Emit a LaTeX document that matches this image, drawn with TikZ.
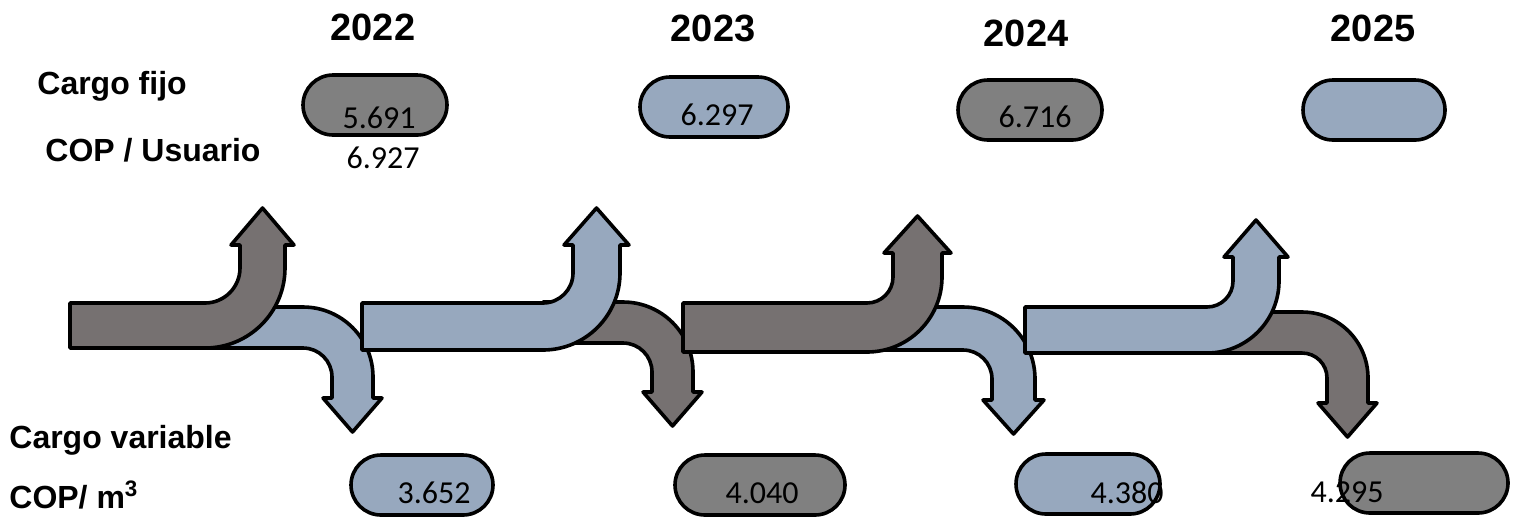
\documentclass[tikz,border=0pt]{standalone}
\usepackage{fontspec}
\setmainfont{Liberation Sans}
\newfontfamily\numfont{Carlito}
\usetikzlibrary{shapes.misc}

\definecolor{arrgray}{RGB}{118,113,113}
\definecolor{pillgray}{RGB}{128,128,128}
\definecolor{slateblue}{RGB}{151,168,190}

\tikzset{
  arrowline/.style={draw=black, line width=1.8pt, line join=round},
  pill/.style={draw, rounded rectangle, line width=1.8pt, minimum height=30pt, inner sep=0pt},
  year/.style={font=\bfseries\fontsize{19}{22}\selectfont},
  lbl/.style={anchor=west, inner sep=0pt, font=\bfseries\fontsize{16}{19}\selectfont},
  num/.style={font=\numfont\fontsize{16}{19}\selectfont}
}

% #1 fill, #2 start x, #3 bend x, #4 bar top, #5 bar bottom, #6 inner radius, #7 head base
\newcommand{\bendup}[7]{%
  \pgfmathsetmacro\outr{#5-#4+#6}
  \draw[arrowline, fill=#1] (#2,-#5) -- (#2,-#4) -- (#3,-#4)
    arc[start angle=-90, end angle=0, radius=#6] -- (#3+#6,-#7) -- (#3+#6-9,-#7)
    -- (#3+#6+0.5*\outr-0.5*#6,-#7+37) -- (#3+\outr+9,-#7) -- (#3+\outr,-#7)
    -- (#3+\outr,-#4+#6) arc[start angle=0, end angle=-90, radius=\outr] -- cycle;}
\newcommand{\benddown}[7]{%
  \pgfmathsetmacro\outr{#5-#4+#6}
  \draw[arrowline, fill=#1] (#2,-#5) -- (#2,-#4) -- (#3,-#4)
    arc[start angle=90, end angle=0, radius=\outr] -- (#3+\outr,-#7) -- (#3+\outr+9,-#7)
    -- (#3+#6+0.5*\outr-0.5*#6,-#7-34) -- (#3+#6-9,-#7) -- (#3+#6,-#7)
    -- (#3+#6,-#5-#6) arc[start angle=0, end angle=90, radius=#6] -- cycle;}

\begin{document}
\begin{tikzpicture}[x=0.5pt, y=0.5pt]
\useasboundingbox (0,0) rectangle (1518,-516);

% years
\node (y22) at (373,-27) [year] {2022};
\node (y23) at (713,-28) [year] {2023};
\node (y24) at (1026,-33) [year] {2024};
\node (y25) at (1373,-28) [year] {2025};

% left labels
\node (fijo) at (37,-86) [lbl] {Cargo fijo};
\node (usuario) at (45,-150) [lbl] {COP / Usuario};
\node (variable) at (9,-440) [lbl] {Cargo variable};
\node (metro) at (9,-495) [lbl] {COP/ m\textsuperscript{3}};

% arrows
\benddown{slateblue}{205}{303}{307}{348}{29}{398}
\bendup{arrgray}{70}{205}{303}{348}{35}{245}
\benddown{arrgray}{543}{623}{302}{343}{29}{392}
\bendup{slateblue}{362}{543}{303}{350}{30}{245}
\benddown{slateblue}{867}{963}{307}{350}{29}{400}
\bendup{arrgray}{683}{867}{303}{352}{26}{253}
\benddown{arrgray}{1207}{1302}{312}{353}{25}{403}
\bendup{slateblue}{1025}{1207}{307}{353}{26}{257}

% cargo fijo
\node (fix22) at (375,-105) [pill, fill=pillgray, minimum width=72pt] {};
\node (fix23) at (714,-107) [pill, fill=slateblue, minimum width=74pt] {};
\node (fix24) at (1030,-110) [pill, fill=pillgray, minimum width=72pt] {};
\node (fix25) at (1374,-110) [pill, fill=slateblue, minimum width=71pt] {};
\node (vfix22) at (379,-118) [num] {5.691};
\node (vold22) at (383,-158) [num] {6.927};
\node (vfix23) at (717,-115) [num] {6.297};
\node (vfix24) at (1035,-117) [num] {6.716};

% cargo variable
\node (var22) at (422,-485) [pill, fill=slateblue, minimum width=71pt] {};
\node (var23) at (760,-485) [pill, fill=pillgray, minimum width=85pt] {};
\node (var24) at (1088,-484) [pill, fill=slateblue, minimum width=72pt] {};
\node (var25) at (1424,-483) [pill, fill=pillgray, minimum width=84pt] {};
\node (vvar22) at (434,-493) [num] {3.652};
\node (vvar23) at (762,-493) [num] {4.040};
\node (vvar24) at (1127,-493) [num] {4.380};
\node (vvar25) at (1347,-492) [num] {4.295};
\end{tikzpicture}
\end{document}
